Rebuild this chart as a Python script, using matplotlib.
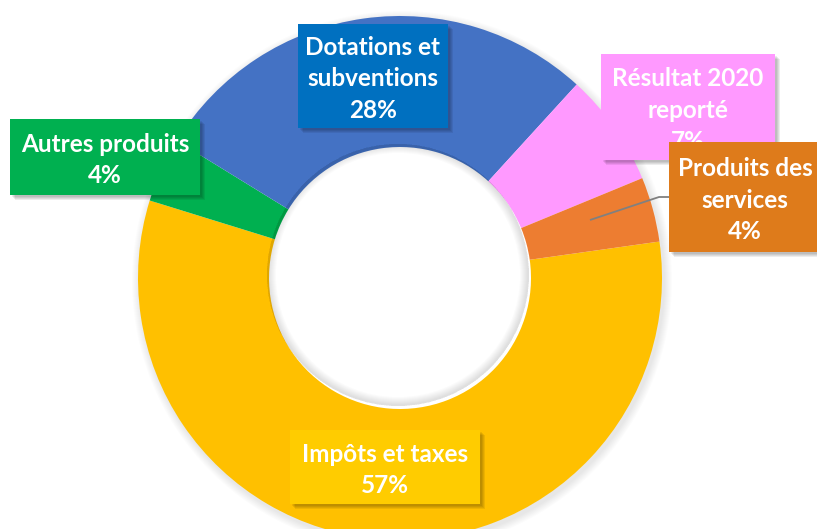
import matplotlib
matplotlib.use("Agg")
import matplotlib.pyplot as plt
from matplotlib.patches import Rectangle, Wedge

# Donnees du graphique (repartition des recettes)
categories = ["Impôts et taxes", "Autres produits", "Dotations et\nsubventions",
              "Résultat 2020\nreporté", "Produits des\nservices"]
valeurs = [57, 4, 28, 7, 4]
couleurs = ["#FFC000", "#00B050", "#4472C4", "#FF99FF", "#ED7D31"]
couleurs_etiq = ["#FFCC00", "#00B050", "#0070C0", "#FF99FF", "#DE7B1B"]

W, H = 817, 529
fig = plt.figure(figsize=(W / 100, H / 100), dpi=100)
ax = fig.add_axes([0, 0, 1, 1])

cx, cy = 400, H - 278
R, r = 262, 131

# ombre douce autour de l'anneau
for k in range(8):
    ax.add_patch(Wedge((cx + 2, cy - 3), R + 8 - k, 0, 360, width=12 - k,
                       color="#000000", alpha=0.012, lw=0, zorder=0))

ax.pie(valeurs, radius=R, center=(cx, cy), startangle=8, counterclock=False,
       colors=couleurs, wedgeprops=dict(width=R - r, linewidth=0))

# ombre interieure du trou
for k in range(8):
    ax.add_patch(Wedge((cx - 2, cy + 3), r, 0, 360, width=9 - k,
                       color="#000000", alpha=0.015, lw=0, zorder=3))

# Etiquettes : (centre x, centre y, largeur, hauteur) en pixels
boites = [
    (385, 467, 190, 74),
    (105, 157, 190, 76),
    (373, 76, 150, 104),
    (688, 107, 174, 106),
    (745, 197, 152, 110),
]
total = sum(valeurs)

# ligne de rappel pour "Produits des services"
ax.plot([590, 659, 669], [H - 220, H - 197, H - 197], color="#808080",
        lw=1.3, zorder=4, solid_capstyle="butt")

for i, (nom, v) in enumerate(zip(categories, valeurs)):
    bx, by, bw, bh = boites[i]
    by = H - by
    for k in range(4):
        ax.add_patch(Rectangle((bx - bw / 2 + 2 + k, by - bh / 2 - 2 - k), bw, bh,
                               color="#000000", alpha=0.07, lw=0, zorder=5 + 2 * i))
    ax.add_patch(Rectangle((bx - bw / 2, by - bh / 2), bw, bh,
                           color=couleurs_etiq[i], lw=0, zorder=6 + 2 * i))
    ax.text(bx, by - 3, f"{nom}\n{round(100 * v / total)}%", ha="center", va="center",
            color="white", fontsize=17.5, fontweight="bold", family="Lato",
            linespacing=1.45, zorder=6 + 2 * i)

ax.set_xlim(0, W)
ax.set_ylim(0, H)
ax.set_aspect("equal")
ax.axis("off")

fig.savefig("out.png", dpi=100, facecolor="white")
